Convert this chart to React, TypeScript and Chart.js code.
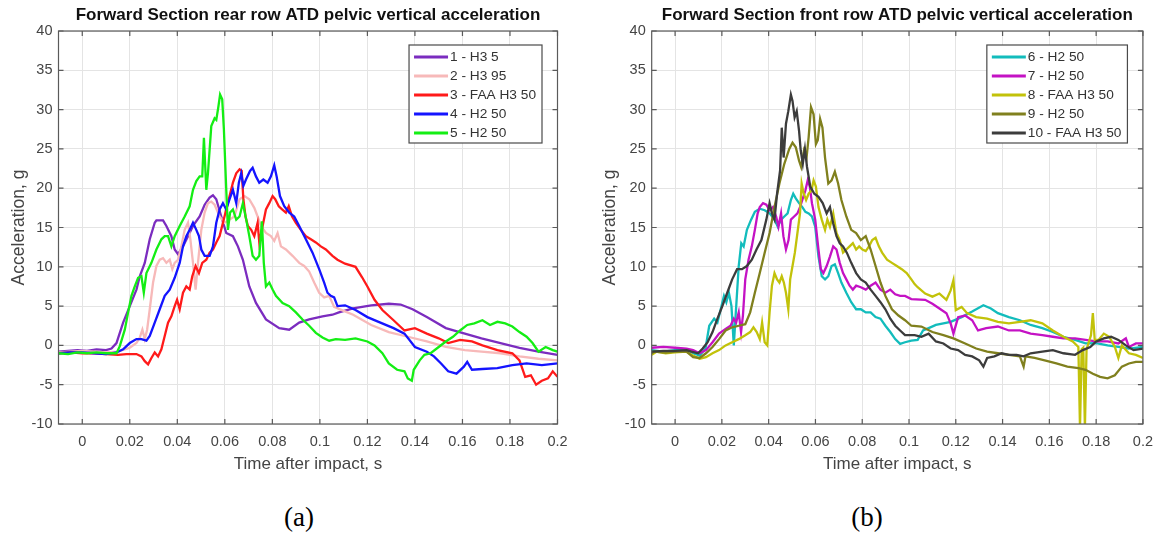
import React, { useEffect, useRef } from 'react';
import { Chart, registerables } from 'chart.js';
Chart.register(...registerables);

type Pt = [number, number];

const xTicks = [0, 0.02, 0.04, 0.06, 0.08, 0.1, 0.12, 0.14, 0.16, 0.18, 0.2];
const xTickLabels = ['0', '0.02', '0.04', '0.06', '0.08', '0.1', '0.12', '0.14', '0.16', '0.18', '0.2'];
const yTicks = [-10, -5, 0, 5, 10, 15, 20, 25, 30, 35, 40];
const yTickLabels = ['-10', '-5', '0', '5', '10', '15', '20', '25', '30', '35', '40'];

const titleA = 'Forward Section rear row ATD pelvic vertical acceleration';
const titleB = 'Forward Section front row ATD pelvic vertical acceleration';
const xAxisTitle = 'Time after impact, s';
const yAxisTitle = 'Acceleration, g';

const namesA = ['1 - H3 5', '2 - H3 95', '3 - FAA H3 50', '4 - H2 50', '5 - H2 50'];
const colorsA = ['#7b2cbf', '#f7b9b9', '#ff1a1a', '#1414ff', '#14ee14'];
const namesB = ['6 - H2 50', '7 - H2 50', '8 - FAA H3 50', '9 - H2 50', '10 - FAA H3 50'];
const colorsB = ['#12bcbc', '#c412c4', '#c2c20a', '#80801e', '#3c3c3c'];

// ---- Panel (a): rear row ----
const s1: Pt[] = [[-0.01,-0.8],[-0.006,-0.7],[-0.002,-0.6],[0.002,-0.7],[0.006,-0.5],[0.01,-0.6],[0.0123,-0.4],[0.0144,0.3],[0.0172,2.9],[0.02,5],[0.0228,7.1],[0.0242,8.8],[0.0263,10.5],[0.0284,13.5],[0.0305,15.6],[0.0312,15.9],[0.034,15.9],[0.0354,15.2],[0.0375,13.9],[0.0389,12.2],[0.0403,11.6],[0.0424,12.6],[0.0445,13.9],[0.0466,15.2],[0.0494,16.4],[0.0515,17.9],[0.0536,18.8],[0.055,19.1],[0.0564,18.6],[0.0585,16.4],[0.0606,14.3],[0.0634,13.9],[0.0655,12.6],[0.0676,10.9],[0.0703,7.5],[0.0731,5.4],[0.0773,3.3],[0.0829,2.2],[0.0871,2],[0.0913,2.9],[0.0955,3.3],[0.1011,3.7],[0.1053,3.9],[0.108,4.2],[0.114,4.7],[0.1216,5.1],[0.129,5.3],[0.134,5.2],[0.139,4.6],[0.145,3.6],[0.153,2.2],[0.161,1.5],[0.168,0.9],[0.176,0.3],[0.184,-0.3],[0.192,-0.8],[0.2,-1.2]];
const s2: Pt[] = [[-0.01,-0.9],[-0.005,-0.8],[0,-0.7],[0.005,-0.8],[0.01,-0.9],[0.015,-0.8],[0.02,-0.3],[0.0228,0.3],[0.0242,1],[0.0253,2],[0.0263,0.8],[0.0273,2],[0.0284,4.6],[0.0298,8],[0.0312,10.1],[0.0326,10.9],[0.034,11.1],[0.0354,10.5],[0.0368,10.9],[0.0379,9.7],[0.0389,10.5],[0.0403,10.9],[0.0417,12.6],[0.0431,14.7],[0.0445,15.6],[0.0455,13.5],[0.0466,10.5],[0.0477,7.1],[0.0487,10.5],[0.0501,14.7],[0.0515,16.9],[0.0529,18.1],[0.0543,18.3],[0.0557,17.9],[0.0578,16.4],[0.0599,15.6],[0.062,16],[0.064,16.4],[0.0662,18.6],[0.0683,19],[0.0703,18.6],[0.0724,17.5],[0.0738,16.4],[0.0752,15.2],[0.0773,14.3],[0.0794,13.9],[0.0808,13.3],[0.0822,14.3],[0.0836,12.6],[0.0857,12.2],[0.0885,11.4],[0.0913,10.5],[0.0934,10.1],[0.0955,9.4],[0.0976,8],[0.0997,6.7],[0.1018,6.1],[0.1039,6.3],[0.106,4.9],[0.11,4.4],[0.114,3.9],[0.1216,2.6],[0.129,1.7],[0.137,1.1],[0.145,0.5],[0.153,-0.2],[0.161,-0.6],[0.168,-0.8],[0.176,-1],[0.184,-1.4],[0.192,-1.7],[0.2,-1.9]];
const s3: Pt[] = [[-0.01,-1],[-0.005,-0.9],[0,-1],[0.005,-1],[0.01,-1.1],[0.015,-1.2],[0.0186,-1.1],[0.0228,-1.1],[0.0249,-1.4],[0.0263,-2],[0.0277,-2.4],[0.0291,-1.6],[0.0305,-0.9],[0.0319,-1.4],[0.0333,-0.5],[0.0347,1.2],[0.0361,2.9],[0.0375,3.7],[0.0389,5],[0.0399,5.8],[0.041,4.6],[0.0424,6.7],[0.0438,7.5],[0.0452,7.1],[0.0463,8.8],[0.0477,10.1],[0.0491,9.2],[0.0505,10.5],[0.0522,10.9],[0.0536,11.8],[0.055,12.2],[0.0564,13.1],[0.0578,13.9],[0.0592,15.6],[0.0606,17.3],[0.062,19],[0.0634,20.7],[0.0648,21.9],[0.0662,22.4],[0.0671,22.2],[0.0678,18.6],[0.0687,16.4],[0.0697,15.2],[0.0711,14.7],[0.0724,13.9],[0.0738,15.6],[0.0745,13.1],[0.0759,15.2],[0.0773,17.3],[0.0787,18.1],[0.0801,19],[0.0812,18.6],[0.0827,17.7],[0.0841,17.3],[0.0857,16.9],[0.0869,17.7],[0.0883,16.4],[0.0899,15.6],[0.092,14.7],[0.0941,13.9],[0.0962,13.5],[0.0983,13.1],[0.1004,12.6],[0.1025,12.2],[0.1053,11.4],[0.1074,10.9],[0.1106,10.4],[0.115,10],[0.1177,8.7],[0.12,7.5],[0.123,5.8],[0.1263,4.5],[0.131,3.2],[0.1356,1.9],[0.14,2.2],[0.145,1.5],[0.15,0.9],[0.154,0.3],[0.159,0.7],[0.164,0.5],[0.1684,0],[0.1747,-0.6],[0.181,-1],[0.184,-1.9],[0.1864,-4],[0.1888,-3.8],[0.191,-5],[0.1934,-4.5],[0.196,-4.2],[0.198,-3.3],[0.2,-4]];
const s4: Pt[] = [[-0.01,-1],[-0.005,-0.9],[0,-0.9],[0.005,-1],[0.01,-1.1],[0.0144,-0.9],[0.0172,-0.5],[0.02,0.3],[0.0228,0.8],[0.0249,0.8],[0.027,0.6],[0.0284,1.2],[0.0305,2.9],[0.0326,4.6],[0.0347,6.3],[0.0368,7.1],[0.0389,8.6],[0.041,10.5],[0.0424,12.6],[0.0438,13.9],[0.0452,14.7],[0.0466,15.6],[0.048,14.7],[0.0491,13.9],[0.0501,12.2],[0.0515,11.4],[0.0536,11.4],[0.055,12.6],[0.0564,15.6],[0.0578,17.3],[0.0592,18.1],[0.0606,17.3],[0.062,18.6],[0.0634,19.8],[0.0648,18.1],[0.0659,20.7],[0.0669,21.9],[0.0678,20.3],[0.0689,21.1],[0.0706,22.2],[0.0717,22.6],[0.0731,21.5],[0.0745,20.7],[0.0762,21.1],[0.078,20.7],[0.0794,21.5],[0.0808,22.9],[0.0818,21.5],[0.0832,19],[0.085,17.7],[0.0871,16.9],[0.0892,16.4],[0.0913,15.2],[0.0941,13.5],[0.0969,11.8],[0.0997,9.7],[0.1018,8],[0.1032,6.7],[0.1046,6.3],[0.106,6.1],[0.1074,5],[0.1106,5.1],[0.115,4.5],[0.12,3.6],[0.1247,3],[0.131,2.2],[0.1356,1.5],[0.14,-0.2],[0.145,-0.8],[0.148,-1.4],[0.151,-2.3],[0.154,-3.3],[0.1575,-3.6],[0.1606,-2.7],[0.162,-2.1],[0.164,-3.1],[0.1684,-3],[0.1747,-2.9],[0.181,-2.5],[0.187,-2.3],[0.1934,-2.5],[0.2,-2.3]];
const s5: Pt[] = [[-0.01,-1],[-0.006,-1.1],[-0.002,-0.9],[0.002,-1],[0.006,-0.9],[0.01,-1],[0.0144,-1],[0.0158,-0.1],[0.0179,2],[0.0193,4.2],[0.0207,6.3],[0.0221,7.5],[0.0235,8.6],[0.0249,8.8],[0.0259,6.7],[0.027,9.2],[0.0291,10.5],[0.0312,12.2],[0.0333,13.5],[0.0347,13.9],[0.0361,13.9],[0.0375,12.6],[0.0389,13.9],[0.041,15.2],[0.0431,16.4],[0.0452,17.7],[0.0466,19.8],[0.048,20.9],[0.0494,21.5],[0.0505,21.5],[0.0512,26.4],[0.0522,19.8],[0.0529,21.9],[0.0543,27.9],[0.0557,28.9],[0.0564,28.7],[0.0573,30.4],[0.058,31.9],[0.0589,31.3],[0.0596,27.5],[0.0606,19.8],[0.0613,14.7],[0.0622,16.9],[0.0634,17.3],[0.0648,16],[0.0662,16.4],[0.0676,18.1],[0.069,16],[0.0703,13.9],[0.0717,11.4],[0.0731,10.9],[0.0745,11.4],[0.0756,15.8],[0.0764,10.5],[0.0773,7.5],[0.0787,8],[0.0801,7.1],[0.0815,6.3],[0.0843,5.4],[0.0871,5],[0.0899,4.2],[0.0927,3.3],[0.0955,2.5],[0.0983,1.6],[0.1011,1],[0.1039,0.6],[0.1067,0.8],[0.1106,0.7],[0.115,0.9],[0.12,0.5],[0.123,0],[0.1263,-1],[0.129,-2.3],[0.1325,-3.1],[0.1356,-3.3],[0.137,-4.2],[0.1387,-4.5],[0.1395,-3.1],[0.142,-1.9],[0.144,-1.2],[0.1466,-1],[0.15,-0.2],[0.153,0.5],[0.156,1.1],[0.159,1.9],[0.162,2.6],[0.165,2.8],[0.1684,3.2],[0.1716,2.6],[0.1747,3],[0.178,2.8],[0.181,2.4],[0.184,1.7],[0.187,1.1],[0.1895,0.3],[0.192,-0.8],[0.195,-0.2],[0.198,-0.6],[0.2,-0.8]];

// ---- Panel (b): front row ----
const s6: Pt[] = [[-0.01,-0.6],[-0.005,-0.8],[0,-0.6],[0.0049,-0.6],[0.0077,-1],[0.0105,-1.3],[0.013,-0.4],[0.0146,2.5],[0.0167,3.4],[0.0181,2.9],[0.0195,4.6],[0.0209,6.3],[0.0219,5.5],[0.023,6.7],[0.0241,5],[0.0251,0],[0.0258,3.4],[0.0272,10.1],[0.0283,13],[0.0293,12.6],[0.0307,14.7],[0.0325,16],[0.0341,17],[0.0362,17.4],[0.0383,17.2],[0.0404,16.8],[0.0425,16],[0.0439,15.1],[0.0453,16],[0.0467,16.4],[0.0481,16.8],[0.0495,18.5],[0.0505,19.3],[0.0516,18.7],[0.053,18.1],[0.0544,17.6],[0.0557,17],[0.0571,16.8],[0.0585,16.4],[0.0599,15.1],[0.0613,11.3],[0.0627,8.8],[0.0641,8.4],[0.0655,8.8],[0.0669,10.1],[0.0683,10.3],[0.0697,9.2],[0.0711,8],[0.0732,6.7],[0.0753,5.5],[0.0774,4.6],[0.0794,4.6],[0.0815,4.2],[0.0836,4.2],[0.0857,3.6],[0.0878,3.4],[0.0899,2.5],[0.092,1.7],[0.0941,0.8],[0.0962,0.2],[0.0983,0.4],[0.101,0.6],[0.1037,0.7],[0.106,1.9],[0.1084,2.2],[0.1115,2.6],[0.1147,2.8],[0.1178,3],[0.1225,3.6],[0.127,4.3],[0.1318,5.1],[0.135,4.7],[0.138,4.1],[0.1427,3.6],[0.1474,3.2],[0.152,2.6],[0.157,2.2],[0.1615,1.7],[0.166,1.1],[0.171,0.7],[0.1755,0.25],[0.18,0.3],[0.1849,0],[0.1895,-0.2],[0.194,-0.4],[0.2,-0.2]];
const s7: Pt[] = [[-0.01,-0.3],[-0.005,-0.2],[0,-0.3],[0.0049,-0.4],[0.0077,-0.6],[0.0105,-1],[0.0132,-0.6],[0.016,0.4],[0.0188,1.5],[0.0216,2.1],[0.0237,2.5],[0.0251,3.4],[0.0261,2.9],[0.0272,4.2],[0.0282,1.7],[0.029,3.8],[0.03,8.4],[0.0314,10.9],[0.0328,12.6],[0.0341,14.7],[0.0353,16.8],[0.0362,17.6],[0.0376,18.1],[0.039,17.9],[0.0404,17.2],[0.0418,17.6],[0.0432,16.4],[0.0442,15.1],[0.0453,16.8],[0.0463,13.9],[0.0474,12.2],[0.0485,13.4],[0.0495,16],[0.0509,16.4],[0.0523,16.8],[0.0534,17.6],[0.0548,18.9],[0.0557,19.7],[0.0567,21],[0.0576,20.2],[0.0585,18.1],[0.0599,16],[0.0613,12.2],[0.0623,9.7],[0.0634,9.2],[0.0648,10.1],[0.0662,11.3],[0.0676,12.6],[0.069,12.2],[0.0704,10.5],[0.0718,9.2],[0.0732,8.4],[0.0746,7.6],[0.076,7.1],[0.0774,7.6],[0.0794,7.4],[0.0815,7.1],[0.0836,7.6],[0.0857,8],[0.0878,7.1],[0.0899,6.7],[0.092,7.1],[0.0941,6.5],[0.0962,6.3],[0.0983,6.3],[0.101,5.9],[0.1069,5.8],[0.11,5.3],[0.113,4.7],[0.116,4.1],[0.1178,2.8],[0.119,1.5],[0.121,3.6],[0.124,3.8],[0.127,3.2],[0.1295,1.9],[0.133,2.2],[0.138,2.4],[0.1427,1.9],[0.1474,1.9],[0.152,1.5],[0.157,1.3],[0.1615,1.1],[0.166,0.9],[0.171,0.9],[0.1755,0.7],[0.18,0.5],[0.1849,0.5],[0.1895,0.25],[0.1927,0.9],[0.194,-0.2],[0.197,0.25],[0.2,0.25]];
const s8: Pt[] = [[-0.01,-1.2],[-0.008,-0.8],[-0.004,-1],[0,-0.9],[0.0049,-0.8],[0.0077,-1.3],[0.0105,-1.7],[0.0132,-1.5],[0.016,-1],[0.0188,-0.6],[0.0216,0],[0.0244,0.4],[0.0272,0.8],[0.03,1.3],[0.0321,1.7],[0.0335,2.3],[0.0349,1.7],[0.0362,0.8],[0.0372,2.9],[0.0383,0.4],[0.0394,0],[0.0404,4.2],[0.0414,7.6],[0.0425,9.2],[0.0436,8.4],[0.0446,8],[0.0456,8.8],[0.0465,8],[0.0474,6.7],[0.0484,4.6],[0.0492,8.4],[0.0502,10.1],[0.0512,11.8],[0.0523,14.3],[0.0534,16.8],[0.0541,20.6],[0.055,19.3],[0.056,18.5],[0.0571,19.3],[0.0583,19.7],[0.0592,21],[0.0602,20.2],[0.0613,17.6],[0.0627,16],[0.0641,14.7],[0.0651,16],[0.0662,15.1],[0.0676,16.8],[0.069,14.3],[0.0704,13.4],[0.0718,11.8],[0.0732,12.2],[0.0746,12.6],[0.076,13],[0.0774,12.2],[0.0787,12.6],[0.0801,12.2],[0.0815,12],[0.0829,12.6],[0.0843,13.4],[0.0857,13.7],[0.0871,12.6],[0.0885,11.8],[0.0906,10.9],[0.0927,10.5],[0.0948,10.1],[0.0969,9.7],[0.099,9.2],[0.101,8.4],[0.1024,7.8],[0.1037,7.4],[0.1069,6.6],[0.11,6.2],[0.113,6.6],[0.116,5.8],[0.1178,7],[0.119,8.3],[0.12,4.5],[0.1225,4.9],[0.1248,4.1],[0.1287,3.6],[0.1334,3.4],[0.138,3],[0.1427,2.8],[0.1474,3],[0.152,3.2],[0.157,2.8],[0.1615,1.9],[0.166,1.1],[0.17,0.5],[0.1724,-0.2],[0.1731,-10.5],[0.1738,-0.5],[0.1745,-0.3],[0.1752,-10.5],[0.1759,-0.5],[0.1778,1.3],[0.1786,4.1],[0.1794,0.7],[0.181,0.7],[0.1833,1.5],[0.1856,1.1],[0.188,-0.2],[0.1895,-1.6],[0.191,0],[0.194,-1],[0.197,-1.2],[0.2,-1.6]];
const s9: Pt[] = [[-0.01,-1],[-0.009,-0.8],[-0.004,-0.9],[0,-0.8],[0.0049,-0.8],[0.0077,-1.5],[0.0105,-1.6],[0.0132,-1],[0.016,-0.2],[0.0188,0.8],[0.0216,1.9],[0.0244,2.3],[0.0272,2.5],[0.03,2.7],[0.0321,4.2],[0.0341,6.7],[0.0362,9.2],[0.0383,11.8],[0.0404,14.3],[0.0425,17.6],[0.0446,20.6],[0.0467,23.1],[0.0488,25],[0.0502,25.8],[0.0516,25.2],[0.053,23.5],[0.0539,22.7],[0.0551,24.8],[0.0562,23.9],[0.0571,26.5],[0.0581,30.3],[0.0592,29.4],[0.0602,25.6],[0.061,26.1],[0.062,28.8],[0.063,27.7],[0.0641,23.9],[0.0655,20.6],[0.0669,21],[0.0683,22.1],[0.0697,20.6],[0.0711,18.5],[0.0732,16.4],[0.0753,14.7],[0.0774,14.3],[0.0794,13.4],[0.0815,13.9],[0.0836,12.2],[0.0857,10.1],[0.0878,8],[0.0899,6.3],[0.0927,4.6],[0.0955,3.8],[0.0983,3.2],[0.101,2.5],[0.1053,2.4],[0.11,1.7],[0.1147,1.3],[0.119,0.9],[0.124,0.25],[0.1287,-0.4],[0.1334,-0.8],[0.138,-1],[0.1427,-1.2],[0.1474,-1.4],[0.149,-2.7],[0.1498,-1.4],[0.1537,-1.6],[0.158,-1.9],[0.163,-2.3],[0.1677,-2.7],[0.1724,-2.9],[0.1755,-3.1],[0.1786,-3.6],[0.1817,-4],[0.1849,-4.2],[0.188,-3.8],[0.191,-2.7],[0.194,-2.3],[0.197,-2.1],[0.2,-2.1]];
const s10: Pt[] = [[-0.01,-0.8],[-0.005,-0.7],[0,-0.7],[0.0049,-0.6],[0.007,-0.8],[0.0098,-1],[0.0118,-0.4],[0.0139,0.4],[0.016,1.7],[0.0181,3.4],[0.0202,5],[0.0223,6.7],[0.0244,8.4],[0.0265,9.7],[0.0286,9.7],[0.0307,10.1],[0.0328,10.9],[0.0348,12.2],[0.0369,13.4],[0.039,16],[0.0404,18.1],[0.0414,16.8],[0.0425,16],[0.0436,19.3],[0.0449,22.3],[0.0456,27.7],[0.0464,23.9],[0.0474,28.2],[0.0484,29.8],[0.0495,31.9],[0.0502,31.1],[0.0511,29],[0.052,29.8],[0.053,27.3],[0.0537,24.8],[0.0546,23.1],[0.0555,25],[0.0564,22.7],[0.0578,20.2],[0.0595,19.3],[0.0613,18.9],[0.0631,18.1],[0.0648,16.8],[0.0662,17.6],[0.0676,15.5],[0.069,13.9],[0.0704,13],[0.0718,12.6],[0.0734,11.8],[0.0753,10.5],[0.0774,9.2],[0.0794,8.4],[0.0815,8],[0.0836,7.1],[0.0857,6.3],[0.0878,5.5],[0.0899,4.6],[0.092,3.4],[0.0941,2.5],[0.0962,1.9],[0.0983,1.3],[0.1003,1.3],[0.1024,1.3],[0.1053,1.1],[0.1084,1.5],[0.1115,0.5],[0.1147,0.25],[0.1178,-0.4],[0.121,-0.6],[0.124,-1.2],[0.127,-1.4],[0.13,-1.9],[0.1318,-2.7],[0.1334,-1.6],[0.1365,-1.4],[0.1396,-1],[0.1427,-1.2],[0.146,-1.2],[0.149,-1.4],[0.152,-1],[0.157,-0.8],[0.1615,-0.6],[0.166,-1],[0.171,-1.2],[0.1743,-0.6],[0.1775,-0.2],[0.18,0.5],[0.1833,0.9],[0.1864,1.1],[0.1895,0.7],[0.1927,0],[0.196,-0.6],[0.2,-0.4]];

const seriesA = [s1, s2, s3, s4, s5];
const seriesB = [s6, s7, s8, s9, s10];

const FONT = '"Liberation Sans", Arial, sans-serif';
const TEXT = '#444444';
const GRID = '#e4e4e4';
const AXIS = '#5a5a5a';

interface PanelProps {
  left: number;
  series: Pt[][];
  names: string[];
  colors: string[];
  title: string;
  yAxisWidth: number;
  rightPad: number;
  yTitleX: number;
}

function Panel(p: PanelProps) {
  const ref = useRef<HTMLCanvasElement | null>(null);
  useEffect(() => {
    const canvas = ref.current;
    if (!canvas) return;
    const deco = {
      id: 'matlabDeco',
      afterDatasetsDraw(chart: any) {
        const ctx = chart.ctx as CanvasRenderingContext2D;
        const a = chart.chartArea;
        const xs = chart.scales.x;
        const ys = chart.scales.y;
        ctx.save();
        // axes box
        ctx.strokeStyle = AXIS;
        ctx.lineWidth = 1.2;
        ctx.strokeRect(a.left, a.top, a.right - a.left, a.bottom - a.top);
        // inward ticks
        ctx.beginPath();
        const tl = 5;
        xTicks.forEach((v) => {
          const x = xs.getPixelForValue(v);
          ctx.moveTo(x, a.bottom); ctx.lineTo(x, a.bottom - tl);
          ctx.moveTo(x, a.top); ctx.lineTo(x, a.top + tl);
        });
        yTicks.forEach((v) => {
          const y = ys.getPixelForValue(v);
          ctx.moveTo(a.left, y); ctx.lineTo(a.left + tl, y);
          ctx.moveTo(a.right, y); ctx.lineTo(a.right - tl, y);
        });
        ctx.stroke();

        // legend
        ctx.font = `13.7px ${FONT}`;
        let maxW = 0;
        p.names.forEach((n) => { maxW = Math.max(maxW, ctx.measureText(n).width); });
        const sample = 34;
        const boxW = 5 + sample + 2 + maxW + 6;
        const boxH = 98;
        const bx = a.right - 15.5 - boxW;
        const by = a.top + 14;
        ctx.fillStyle = '#ffffff';
        ctx.fillRect(bx, by, boxW, boxH);
        ctx.strokeStyle = '#4a4a4a';
        ctx.lineWidth = 1.2;
        ctx.strokeRect(bx, by, boxW, boxH);
        ctx.textBaseline = 'middle';
        ctx.textAlign = 'left';
        p.names.forEach((n, i) => {
          const ry = by + 12 + i * 19;
          ctx.strokeStyle = p.colors[i];
          ctx.lineWidth = 3;
          ctx.beginPath();
          ctx.moveTo(bx + 5, ry);
          ctx.lineTo(bx + 5 + sample, ry);
          ctx.stroke();
          ctx.fillStyle = '#333333';
          ctx.fillText(n, bx + 5 + sample + 2, ry + 0.5);
        });

        // title
        ctx.fillStyle = '#111111';
        ctx.font = `bold 17px ${FONT}`;
        ctx.textAlign = 'center';
        ctx.textBaseline = 'middle';
        ctx.fillText(p.title, (a.left + a.right) / 2, 15);

        // x title
        ctx.fillStyle = TEXT;
        ctx.font = `17px ${FONT}`;
        ctx.fillText(xAxisTitle, (a.left + a.right) / 2, 464);

        // y title
        ctx.save();
        ctx.translate(p.yTitleX, (a.top + a.bottom) / 2);
        ctx.rotate(-Math.PI / 2);
        ctx.font = `17.5px ${FONT}`;
        ctx.fillText(yAxisTitle, 0, 0);
        ctx.restore();
        ctx.restore();
      },
    };

    const n = p.series.length;
    const chart = new Chart(canvas, {
      type: 'line',
      data: {
        datasets: p.series.map((s, i) => ({
          label: p.names[i],
          data: s.map(([x, y]) => ({ x, y })),
          borderColor: p.colors[i],
          backgroundColor: p.colors[i],
          borderWidth: 2.3,
          pointRadius: 0,
          tension: 0,
          fill: false,
          order: n - i,
        })),
      },
      options: {
        responsive: false,
        animation: false,
        devicePixelRatio: 1,
        layout: { padding: { top: 31, right: p.rightPad, bottom: 0, left: 0 } },
        plugins: {
          legend: { display: false },
          tooltip: { enabled: false },
          title: { display: false },
        },
        scales: {
          x: {
            type: 'linear',
            min: -0.01,
            max: 0.2,
            afterBuildTicks: (s: any) => { s.ticks = xTicks.map((v) => ({ value: v })); },
            afterFit: (s: any) => { s.height = 61; },
            ticks: {
              autoSkip: false,
              maxRotation: 0,
              padding: 9,
              color: TEXT,
              font: { family: FONT, size: 14.5 },
              callback: (_v: any, i: number) => xTickLabels[i],
            },
            grid: { color: GRID, drawTicks: false, lineWidth: 1 },
            border: { display: false },
          },
          y: {
            type: 'linear',
            min: -10,
            max: 40,
            afterBuildTicks: (s: any) => { s.ticks = yTicks.map((v) => ({ value: v })); },
            afterFit: (s: any) => { s.width = p.yAxisWidth; },
            ticks: {
              padding: 6,
              color: TEXT,
              font: { family: FONT, size: 14.5 },
              callback: (_v: any, i: number) => yTickLabels[i],
            },
            grid: { color: GRID, drawTicks: false, lineWidth: 1 },
            border: { display: false },
          },
        },
      },
      plugins: [deco],
    } as any);
    return () => chart.destroy();
  }, []);

  return (
    <canvas
      ref={ref}
      width={581}
      height={485}
      style={{ position: 'absolute', left: p.left, top: 0, width: 581, height: 485, display: 'block' }}
    />
  );
}

export default function App() {
  const cap: React.CSSProperties = {
    position: 'absolute',
    top: 502,
    fontFamily: '"Liberation Serif", "Times New Roman", serif',
    fontSize: 27,
    color: '#000',
    width: 60,
    textAlign: 'center',
    lineHeight: '30px',
  };
  return (
    <div style={{ position: 'fixed', left: 0, top: 0, width: 1162, height: 533, background: '#fff', overflow: 'hidden' }}>
      <Panel left={0} series={seriesA} names={namesA} colors={colorsA} title={titleA} yAxisWidth={58.5} rightPad={23.5} yTitleX={19} />
      <Panel left={581} series={seriesB} names={namesB} colors={colorsB} title={titleB} yAxisWidth={70.7} rightPad={12.7} yTitleX={29} />
      <div style={{ ...cap, left: 299 - 30 }}>(a)</div>
      <div style={{ ...cap, left: 867 - 30 }}>(b)</div>
    </div>
  );
}
